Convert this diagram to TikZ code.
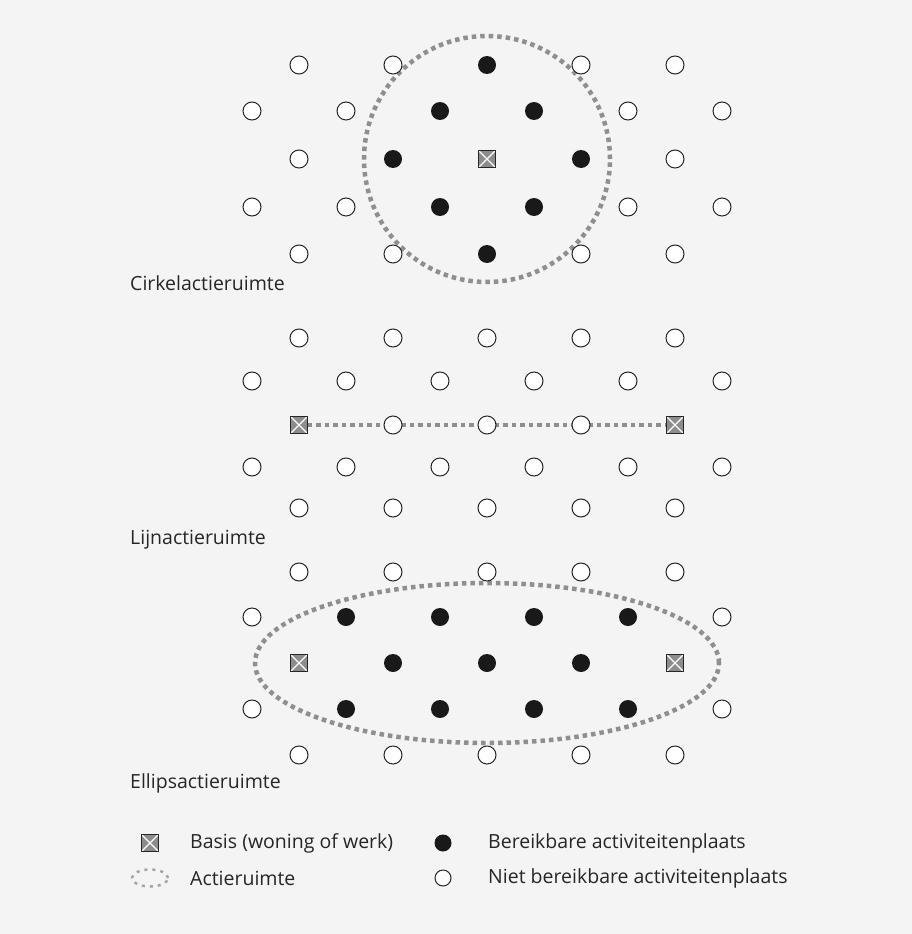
\documentclass[tikz,border=0pt]{standalone}
\usepackage{fontspec}
\setmainfont{Open Sans}
\usepackage{tikz}
\usetikzlibrary{positioning}
\usetikzlibrary{backgrounds,shapes.geometric}
\definecolor{papier}{gray}{0.955}
\definecolor{stippel}{gray}{0.56}
\tikzset{
	open/.style={circle, draw=black!85, line width=1pt, fill=white, minimum size=18pt, inner sep=0pt},
	vol/.style={circle, fill=black!90, minimum size=18pt, inner sep=0pt},
	basis/.style={rectangle, draw=black!85, line width=0.8pt, fill=black!45, minimum size=17pt, inner sep=0pt,
		path picture={\draw[white, line width=1.2pt] (path picture bounding box.south west) -- (path picture bounding box.north east)
			(path picture bounding box.north west) -- (path picture bounding box.south east);}},
	stip/.style={draw=stippel, line width=4.5pt, dash pattern=on 4.5pt off 4pt},
	tekst/.style={anchor=west, inner sep=0pt, font=\fontsize{19.5}{23}\selectfont, text=black!85}
}

\begin{document}
\begin{tikzpicture}[x=1pt, y=1pt]
	\begin{scope}[on background layer]
		\fill[papier] (0, 0) rectangle (912, -934);
	\end{scope}
	\useasboundingbox (0, 0) rectangle (912, -934);

	% cirkelactieruimte
	\foreach \c in {1,3,7,9} {
		\node[open] (ca\c) at ({252+47*\c}, -65) {};
		\node[open] (ce\c) at ({252+47*\c}, -254) {};
	}
	\node[vol] (ca5) at (487, -65) {};
	\node[vol] (ce5) at (487, -254) {};
	\foreach \c in {0,2,8,10} {
		\node[open] (cb\c) at ({252+47*\c}, -111) {};
		\node[open] (cd\c) at ({252+47*\c}, -207) {};
	}
	\foreach \c in {4,6} {
		\node[vol] (cb\c) at ({252+47*\c}, -111) {};
		\node[vol] (cd\c) at ({252+47*\c}, -207) {};
	}
	\node[open] (cc1) at (299, -159) {};
	\node[vol] (cc3) at (393, -159) {};
	\node[basis] (cc5) at (487, -159) {};
	\node[vol] (cc7) at (581, -159) {};
	\node[open] (cc9) at (675, -159) {};
	\node[tekst] (cirkel) at (130, -283) {Cirkelactieruimte};

	% lijnactieruimte
	\foreach \c in {1,3,5,7,9} {
		\node[open] (la\c) at ({252+47*\c}, -338) {};
		\node[open] (le\c) at ({252+47*\c}, -508) {};
	}
	\foreach \c in {0,2,4,6,8,10} {
		\node[open] (lb\c) at ({252+47*\c}, -381) {};
		\node[open] (ld\c) at ({252+47*\c}, -467) {};
	}
	\node[basis] (lc1) at (299, -425) {};
	\foreach \c in {3,5,7} {
		\node[open] (lc\c) at ({252+47*\c}, -425) {};
	}
	\node[basis] (lc9) at (675, -425) {};
	\node[tekst] (lijn) at (130, -540) {Lijnactieruimte};

	% ellipsactieruimte
	\foreach \c in {1,3,5,7,9} {
		\node[open] (ea\c) at ({252+47*\c}, -572) {};
		\node[open] (ee\c) at ({252+47*\c}, -755) {};
	}
	\foreach \c in {0,10} {
		\node[open] (eb\c) at ({252+47*\c}, -617) {};
		\node[open] (ed\c) at ({252+47*\c}, -709) {};
	}
	\foreach \c in {2,4,6,8} {
		\node[vol] (eb\c) at ({252+47*\c}, -617) {};
		\node[vol] (ed\c) at ({252+47*\c}, -709) {};
	}
	\node[basis] (ec1) at (299, -663) {};
	\foreach \c in {3,5,7} {
		\node[vol] (ec\c) at ({252+47*\c}, -663) {};
	}
	\node[basis] (ec9) at (675, -663) {};
	\node[tekst] (ellips) at (130, -783) {Ellipsactieruimte};

	% actieruimtes
	\begin{scope}[on background layer]
		\draw[stip] (cc5) circle[radius=123];
		\draw[stip] (lc1) -- (lc9);
		\draw[stip] (ec5) ellipse[x radius=232, y radius=80];
	\end{scope}

	% legenda
	\node[basis] (lg-basis) at (150, -843) {};
	\node[tekst] at (190, -843) {Basis (woning of werk)};
	\node[vol, minimum size=17pt] (lg-vol) at (443, -843) {};
	\node[tekst] at (488, -843) {Bereikbare activiteitenplaats};
	\node[draw=stippel!80, line width=2.5pt, dash pattern=on 3pt off 5pt, ellipse, minimum width=36pt, minimum height=17pt] (lg-stip) at (150, -878) {};
	\node[tekst] at (190, -878) {Actieruimte};
	\node[open, minimum size=16pt] (lg-open) at (443, -878) {};
	\node[tekst] at (488, -878) {Niet bereikbare activiteitenplaats};
\end{tikzpicture}
\end{document}
